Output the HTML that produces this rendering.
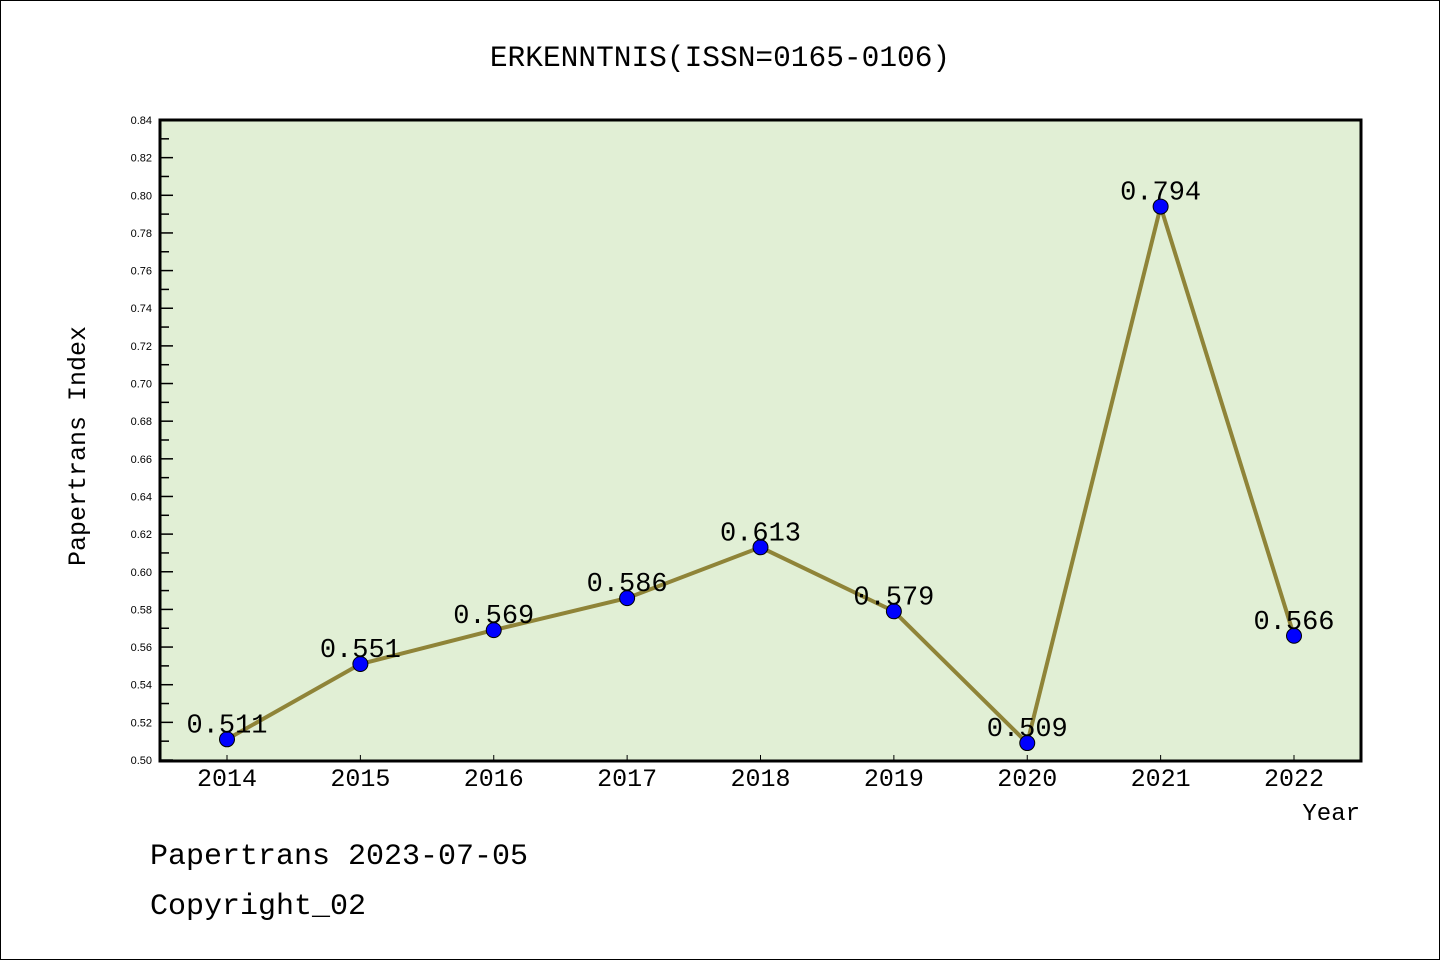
<!DOCTYPE html>
<html><head><meta charset="utf-8"><style>
body{margin:0;background:#fff}
svg{display:block;font-family:"Liberation Mono","WenQuanYi Zen Hei",monospace}
</style></head><body>
<svg width="1440" height="960">
<rect x="0.5" y="0.5" width="1439" height="959" fill="#fff" stroke="#000"/>
<text x="720" y="66" font-size="29.5" text-anchor="middle">ERKENNTNIS(ISSN=0165-0106)</text>
<rect x="160" y="120" width="1201" height="641" fill="#e1efd5"/>
<g id="yt"></g>
<g id="xt"></g>
<g id="series"></g>
<rect x="160" y="120" width="1201" height="641" fill="none" stroke="#000" stroke-width="3"/>
<text x="85" y="446" font-size="25" text-anchor="middle" transform="rotate(-90 85 446)">Papertrans Index</text>
<text x="1360" y="820" font-size="24" text-anchor="end">Year</text>
<text x="150" y="864" font-size="30">Papertrans 2023-07-05</text>
<text x="150" y="914" font-size="30">Copyright_02</text>
</svg>
<script>
const years=[2014,2015,2016,2017,2018,2019,2020,2021,2022];
const values=[0.511,0.551,0.569,0.586,0.613,0.579,0.509,0.794,0.566];
const labels=["0.511","0.551","0.569","0.586","0.613","0.579","0.509","0.794","0.566"];
const yTicks=[0.50,0.52,0.54,0.56,0.58,0.60,0.62,0.64,0.66,0.68,0.70,0.72,0.74,0.76,0.78,0.80,0.82,0.84];
const NS="http://www.w3.org/2000/svg";
const yMin=0.50,yMax=0.84,yTop=120,yBot=760;
function ys(v){return yBot-(v-yMin)/(yMax-yMin)*(yBot-yTop);}
function xs(i){return 227+i*(1294-227)/(years.length-1);}
function mk(t,a,p){const e=document.createElementNS(NS,t);for(const k in a)e.setAttribute(k,a[k]);p.appendChild(e);return e;}
const yt=document.getElementById('yt'),xt=document.getElementById('xt'),sg=document.getElementById('series');
yTicks.forEach((v,i)=>{
 const y=ys(v);
 const l=mk('line',{x1:160,x2:173,y1:y,y2:y,stroke:'#000','stroke-width':1.5},yt);
 
 
 const t=mk('text',{x:152,y:y+4,'font-size':11,'text-anchor':'end','font-family':'Liberation Sans, sans-serif'},yt);
 
 
 t.textContent=v.toFixed(2);
 if(i<yTicks.length-1){const ym=ys(v+0.01);
  const m=mk('line',{x1:160,x2:169,y1:ym,y2:ym,stroke:'#000','stroke-width':1.5},yt);
  
  }
});
years.forEach((yr,i)=>{
 const x=xs(i);
 const l=mk('line',{x1:x,x2:x,y1:761,y2:755,stroke:'#000','stroke-width':1},xt);
 
 
 const t=mk('text',{x:x,y:786,'font-size':25,'text-anchor':'middle'},xt);
 
 
 t.textContent=yr;
});
const pl=mk('polyline',{points:values.map((v,i)=>xs(i)+','+ys(v)).join(' '),fill:'none',stroke:'#8f8438','stroke-width':4},sg);


values.forEach((v,i)=>{
 const c=mk('circle',{cx:xs(i),cy:ys(v),r:7.5,fill:'#0000ff',stroke:'#000','stroke-width':1},sg);
 
 
 const t=mk('text',{x:xs(i),y:ys(v)-7,'font-size':27,'text-anchor':'middle'},sg);
 
 
 t.textContent=labels[i];
});
</script>
</body></html>
